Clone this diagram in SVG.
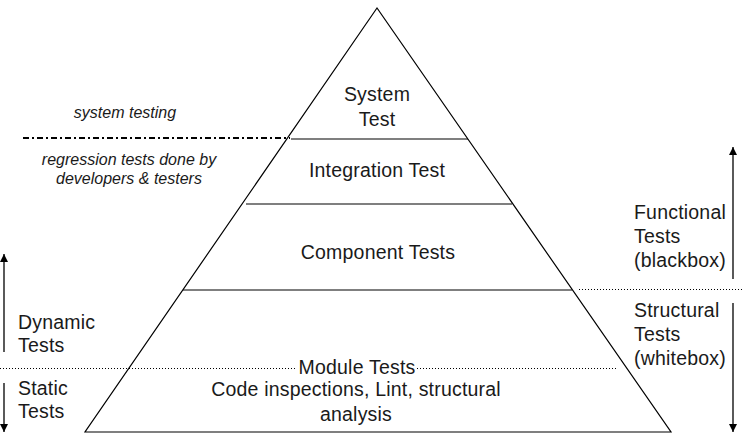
<svg xmlns="http://www.w3.org/2000/svg" width="744" height="436" viewBox="0 0 744 436">
<defs>
<marker id="ah" viewBox="0 0 8 10" refX="8" refY="5" markerWidth="8" markerHeight="10" markerUnits="userSpaceOnUse" orient="auto">
<path d="M0,1 L8,5 L0,9 Z" fill="#000"/>
</marker>
</defs>
<style>
.t{font-family:"Liberation Sans",Arial,sans-serif;font-size:19.5px;fill:#1a1a1a;letter-spacing:0.2px}
.i{font-family:"Liberation Sans",Arial,sans-serif;font-size:16px;font-style:italic;fill:#1a1a1a}
.m{text-anchor:middle}
.ln{stroke:#000;stroke-width:1.2;fill:none}
.dot{stroke:#000;stroke-width:1;stroke-dasharray:1 2;fill:none}
.dd{stroke:#000;stroke-width:2;stroke-dasharray:6 3 2 3;fill:none}
.ar{stroke:#000;stroke-width:1.3;fill:none;marker-end:url(#ah)}
</style>
<rect width="744" height="436" fill="#fff"/>
<g id="connectors">
<polygon class="ln" points="377,8 85,432 671,432"/>
<line class="ln" x1="291" y1="139" x2="468" y2="139"/>
<line class="ln" x1="246" y1="204" x2="512" y2="204"/>
<line class="ln" x1="183" y1="290" x2="572" y2="290"/>
<line class="dd" x1="23" y1="138" x2="290" y2="138"/>
<line class="dot" x1="0" y1="368.5" x2="297" y2="368.5"/>
<line class="dot" x1="417" y1="368.5" x2="618" y2="368.5"/>
<line class="dot" x1="579" y1="289.5" x2="744" y2="289.5"/>
<line class="ar" x1="4" y1="352" x2="4" y2="254"/>
<line class="ar" x1="4" y1="383" x2="4" y2="432"/>
<line class="ar" x1="733" y1="279" x2="733" y2="147"/>
<line class="ar" x1="733" y1="303" x2="733" y2="432"/>
</g>
<g id="system-test"><text class="t m" x="377" y="101">System</text><text class="t m" x="377" y="126">Test</text></g>
<g id="integration-test"><text class="t m" x="377" y="177">Integration Test</text></g>
<g id="component-tests"><text class="t m" x="378" y="259">Component Tests</text></g>
<g id="module-tests"><text class="t m" x="357" y="374">Module Tests</text><text class="t m" x="356" y="396">Code inspections, Lint, structural</text><text class="t m" x="356" y="421">analysis</text></g>
<g id="system-testing"><text class="i m" x="125" y="118">system testing</text></g>
<g id="regression"><text class="i m" x="129" y="165">regression tests done by</text><text class="i m" x="129" y="184">developers &amp; testers</text></g>
<g id="dynamic"><text class="t" x="18" y="329">Dynamic</text><text class="t" x="18" y="352">Tests</text></g>
<g id="static"><text class="t" x="18" y="395">Static</text><text class="t" x="18" y="418">Tests</text></g>
<g id="functional"><text class="t" x="634" y="219">Functional</text><text class="t" x="634" y="243">Tests</text><text class="t" x="634" y="267">(blackbox)</text></g>
<g id="structural"><text class="t" x="634" y="317">Structural</text><text class="t" x="634" y="341">Tests</text><text class="t" x="634" y="365">(whitebox)</text></g>
</svg>
